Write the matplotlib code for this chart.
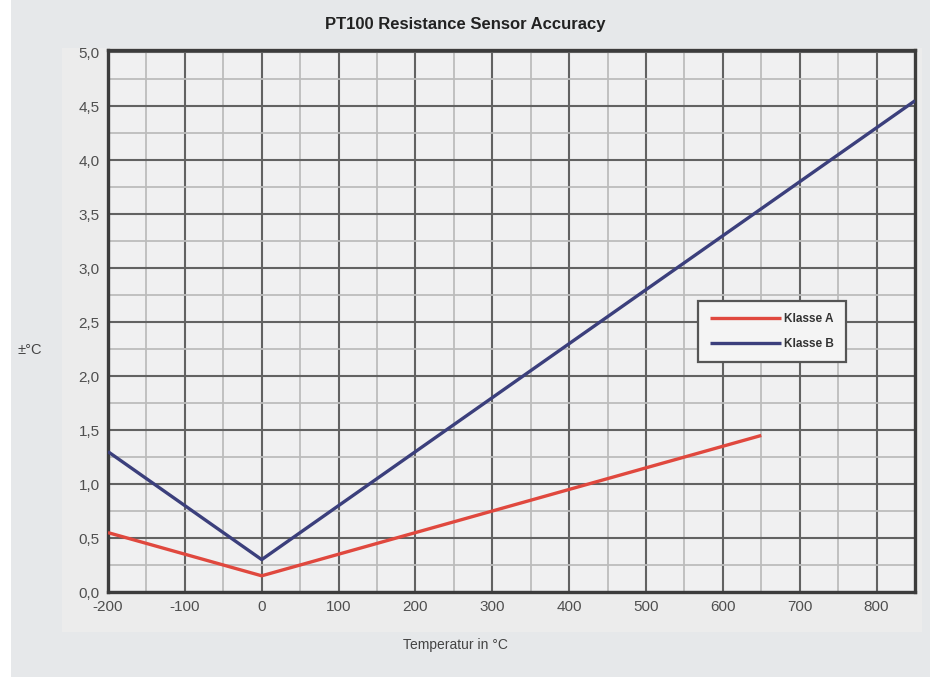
import matplotlib
matplotlib.use("Agg")
import matplotlib.pyplot as plt
from matplotlib.patches import Rectangle
from matplotlib.ticker import MultipleLocator, FixedLocator

plt.rcParams["font.family"] = ["Liberation Sans", "DejaVu Sans"]
plt.rcParams["axes.unicode_minus"] = False

# Data
temp_a = [-200, 0, 650]
tol_a = [0.55, 0.15, 1.45]
temp_b = [-200, 0, 850]
tol_b = [1.30, 0.30, 4.55]
series_labels = ["Klasse A", "Klasse B"]
x_ticks = [-200, -100, 0, 100, 200, 300, 400, 500, 600, 700, 800]
y_ticks = [0.0, 0.5, 1.0, 1.5, 2.0, 2.5, 3.0, 3.5, 4.0, 4.5, 5.0]
y_tick_labels = ["0,0", "0,5", "1,0", "1,5", "2,0", "2,5", "3,0", "3,5", "4,0", "4,5", "5,0"]
title = "PT100 Resistance Sensor Accuracy"
x_label = "Temperatur in °C"
y_label = "±°C"

W, H = 930, 677
fig = plt.figure(figsize=(W / 100, H / 100), dpi=100)
fig.patch.set_facecolor("white")

# gray background panel
fig.patches.append(Rectangle((11 / W, 0), 1 - 11 / W, 1, transform=fig.transFigure,
                             facecolor="#e6e8ea", edgecolor="none", zorder=-10))
# lighter band around plot
fig.patches.append(Rectangle((62 / W, 1 - 632 / H), (922 - 62) / W, (632 - 48) / H,
                             transform=fig.transFigure, facecolor="#ececec",
                             edgecolor="none", zorder=-9))

ax = fig.add_axes([108 / W, 1 - 592 / H, (915 - 108) / W, (592 - 50) / H])
ax.set_zorder(1)
ax.set_facecolor("#f0f0f1")

ax.plot(temp_a, tol_a, color="#e0483e", lw=2.4, label=series_labels[0], zorder=5,
        solid_capstyle="butt")
ax.plot(temp_b, tol_b, color="#3b3f7c", lw=2.4, label=series_labels[1], zorder=5,
        solid_capstyle="butt")

ax.set_xlim(-200, 850)
ax.set_ylim(0, 5.02)
ax.xaxis.set_major_locator(FixedLocator(x_ticks))
ax.yaxis.set_major_locator(FixedLocator(y_ticks))
ax.set_yticklabels(y_tick_labels)
ax.xaxis.set_minor_locator(MultipleLocator(50))
ax.yaxis.set_minor_locator(MultipleLocator(0.25))

ax.grid(which="major", color="#626262", lw=1.5, zorder=1)
ax.grid(which="minor", color="#bcbcbc", lw=1.3, zorder=1)
ax.set_axisbelow(True)

for s in ax.spines.values():
    s.set_color("#3c3c3c")
    s.set_linewidth(2.4)

ax.tick_params(which="both", length=0, colors="#555555", labelsize=11, pad=6)
for lab in ax.get_xticklabels() + ax.get_yticklabels():
    lab.set_color("#4f4f4f")

fig.text(0.5, 1 - 25 / H, title, ha="center", va="center", fontsize=12,
         fontweight="bold", color="#222222")
fig.text(455 / W, 1 - 645 / H, x_label, ha="center", va="center", fontsize=10,
         color="#444444")
fig.text(30 / W, 1 - 350 / H, y_label, ha="center", va="center", fontsize=10.5,
         color="#444444")

leg = ax.legend(loc="upper left", bbox_to_anchor=((698 - 108) / (915 - 108), (592 - 301) / (592 - 50)),
                frameon=True, fancybox=False, prop={"size": 8.5, "weight": "bold"},
                handlelength=6.0, borderpad=1.0, labelspacing=1.1, handletextpad=0.3,
                borderaxespad=0)
leg.get_frame().set_edgecolor("#555555")
leg.get_frame().set_linewidth(1.6)
leg.get_frame().set_facecolor("#f4f4f4")
leg.get_frame().set_alpha(1)
for t in leg.get_texts():
    t.set_color("#333333")

fig.savefig("out.png", dpi=100, facecolor=fig.get_facecolor())
